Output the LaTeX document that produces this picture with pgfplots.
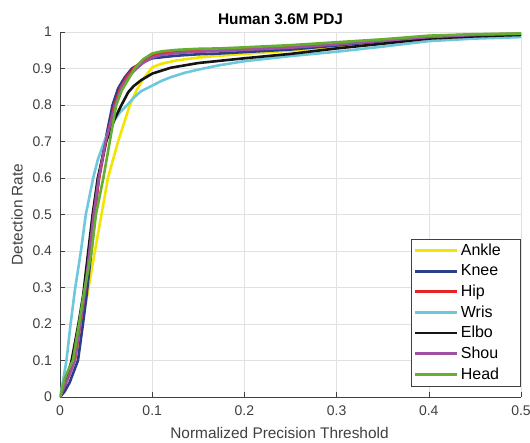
\documentclass[border=0pt]{standalone}
\usepackage{fontspec}
\setmainfont{Liberation Sans}
\usepackage{pgfplots}
\pgfplotsset{compat=1.18}

\definecolor{axgray}{RGB}{64,64,64}
\definecolor{gridgray}{RGB}{225,225,225}
\definecolor{cAnkle}{RGB}{242,230,0}
\definecolor{cKnee}{RGB}{42,62,140}
\definecolor{cHip}{RGB}{232,35,40}
\definecolor{cWris}{RGB}{110,200,220}
\definecolor{cElbo}{RGB}{20,20,20}
\definecolor{cShou}{RGB}{160,80,160}
\definecolor{cHead}{RGB}{100,175,50}

\begin{document}
\begin{tikzpicture}
\begin{axis}[
    name=ax,
    scale only axis, width=461pt, height=365pt,
    xmin=0, xmax=0.5, ymin=0, ymax=1,
    xtick={0,0.1,0.2,0.3,0.4,0.5},
    ytick={0,0.1,0.2,0.3,0.4,0.5,0.6,0.7,0.8,0.9,1},
    axis x line*=bottom, axis y line*=left,
    axis line style={draw=axgray, line width=0.6pt, -},
    tick align=inside, major tick length=5pt,
    tick style={draw=axgray, line width=0.6pt},
    grid=major, major grid style={draw=gridgray, line width=0.6pt},
    tick label style={font=\fontsize{14}{16}\selectfont, text=axgray},
    xticklabel style={yshift=-5pt},
    yticklabel style={xshift=-4.5pt},
    /pgf/number format/assume math mode=true,
    /pgf/number format/fixed,
    xlabel={Normalized Precision Threshold},
    ylabel={Detection Rate},
    every axis x label/.style={at={(rel axis cs:0.5,0)}, anchor=center,
        yshift=-36pt, xshift=-11pt},
    every axis y label/.style={at={(rel axis cs:0,0.5)}, anchor=center,
        xshift=-43pt, rotate=90},
    label style={font=\fontsize{15.4}{17}\selectfont, text=axgray},
    title={\bfseries Human 3.6M PDJ},
    every axis title/.style={at={(rel axis cs:0.5,1)}, anchor=center,
        yshift=13pt, xshift=-10pt, font=\fontsize{15.4}{17}\selectfont},
    legend style={at={(0.998,0.03)}, anchor=south east, draw=axgray,
        font=\fontsize{16}{18}\selectfont,
        cells={anchor=west}, row sep=3.6pt, inner ysep=3pt},
    legend image code/.code={\draw[#1, line width=2.8pt] (0pt,0pt) -- (42pt,0pt);},
    every axis plot/.append style={line width=2.6pt, line join=round},
]
% Ankle
\addplot[cAnkle] coordinates {(0,0) (0.005,0.04) (0.01,0.07) (0.0162,0.1) (0.024,0.2) (0.0303,0.29) (0.0379,0.4) (0.045,0.5) (0.052,0.6) (0.063,0.7) (0.0758,0.8) (0.083,0.84) (0.09,0.87) (0.1,0.903) (0.11,0.913) (0.126,0.922) (0.15,0.93) (0.173,0.935) (0.2,0.94) (0.25,0.949) (0.3,0.958) (0.35,0.97) (0.4,0.983) (0.45,0.99) (0.5,0.994)};
% Knee
\addplot[cKnee] coordinates {(0,0) (0.005,0.015) (0.0105,0.04) (0.0195,0.1) (0.0249,0.2) (0.0289,0.28) (0.034,0.4) (0.038,0.5) (0.042,0.6) (0.049,0.7) (0.057,0.8) (0.063,0.845) (0.07,0.875) (0.078,0.9) (0.09,0.918) (0.1,0.928) (0.126,0.935) (0.15,0.939) (0.173,0.941) (0.2,0.945) (0.25,0.952) (0.3,0.963) (0.35,0.975) (0.4,0.987) (0.45,0.992) (0.5,0.994)};
% Hip
\addplot[cHip] coordinates {(0,0) (0.005,0.03) (0.01,0.06) (0.016,0.1) (0.022,0.2) (0.027,0.29) (0.032,0.4) (0.037,0.5) (0.0425,0.6) (0.05,0.7) (0.059,0.8) (0.066,0.85) (0.073,0.88) (0.08,0.9) (0.09,0.922) (0.1,0.936) (0.11,0.943) (0.126,0.947) (0.15,0.95) (0.173,0.952) (0.2,0.955) (0.25,0.96) (0.3,0.968) (0.35,0.978) (0.4,0.988) (0.45,0.993) (0.5,0.995)};
% Wris
\addplot[cWris] coordinates {(0,0) (0.003,0.04) (0.007,0.1) (0.0115,0.2) (0.016,0.29) (0.0227,0.4) (0.028,0.5) (0.036,0.6) (0.041,0.65) (0.048,0.7) (0.057,0.75) (0.065,0.78) (0.073,0.8) (0.08,0.82) (0.088,0.838) (0.1,0.853) (0.11,0.866) (0.12,0.876) (0.135,0.888) (0.15,0.897) (0.173,0.909) (0.2,0.92) (0.25,0.934) (0.3,0.946) (0.35,0.96) (0.4,0.975) (0.45,0.982) (0.5,0.986)};
% Elbo
\addplot[cElbo] coordinates {(0,0) (0.005,0.03) (0.0126,0.1) (0.02,0.2) (0.0252,0.28) (0.0307,0.4) (0.0354,0.5) (0.041,0.6) (0.05,0.7) (0.059,0.76) (0.0667,0.8) (0.074,0.835) (0.08,0.852) (0.088,0.868) (0.1,0.886) (0.12,0.902) (0.15,0.915) (0.173,0.921) (0.2,0.928) (0.25,0.94) (0.3,0.955) (0.35,0.968) (0.4,0.982) (0.45,0.988) (0.5,0.992)};
% Shou
\addplot[cShou] coordinates {(0,0) (0.005,0.03) (0.01,0.06) (0.016,0.1) (0.022,0.2) (0.027,0.29) (0.032,0.4) (0.0365,0.5) (0.042,0.6) (0.0495,0.7) (0.06,0.8) (0.067,0.85) (0.075,0.88) (0.083,0.9) (0.09,0.915) (0.1,0.93) (0.11,0.937) (0.126,0.942) (0.15,0.946) (0.173,0.948) (0.2,0.951) (0.25,0.957) (0.3,0.966) (0.35,0.976) (0.4,0.986) (0.45,0.992) (0.5,0.995)};
% Head
\addplot[cHead] coordinates {(0,0) (0.005,0.05) (0.01,0.08) (0.014,0.1) (0.0206,0.2) (0.025,0.27) (0.027,0.3) (0.0343,0.4) (0.039,0.5) (0.047,0.6) (0.054,0.7) (0.061,0.8) (0.067,0.84) (0.074,0.87) (0.081,0.9) (0.09,0.925) (0.1,0.941) (0.11,0.947) (0.126,0.951) (0.15,0.954) (0.173,0.955) (0.2,0.958) (0.25,0.964) (0.3,0.972) (0.35,0.98) (0.4,0.99) (0.45,0.994) (0.5,0.996)};
\legend{Ankle\hspace*{14pt}, Knee, Hip, Wris, Elbo, Shou, Head}
\end{axis}
\pgfresetboundingbox
\path[use as bounding box] ([shift={(-60pt,-45pt)}]ax.south west) rectangle ([shift={(9pt,32pt)}]ax.north east);
\end{tikzpicture}
\end{document}
